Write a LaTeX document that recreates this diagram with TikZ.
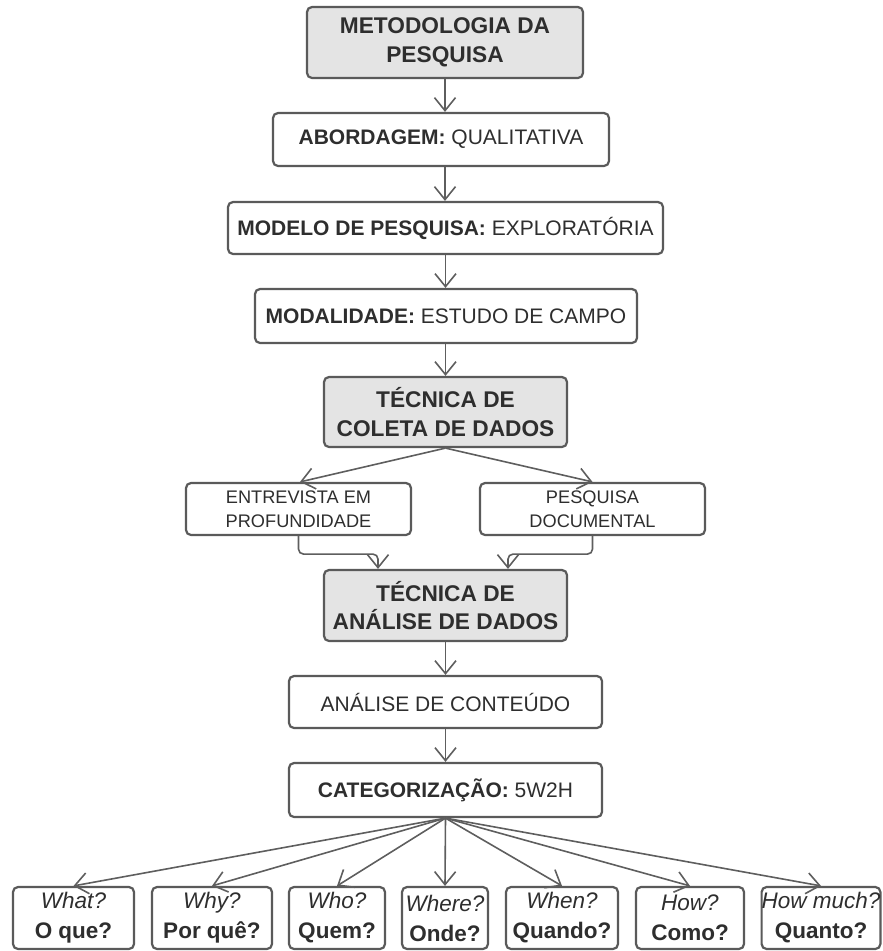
\documentclass[tikz,border=0pt]{standalone}
\usepackage{fontspec}
\setmainfont{Liberation Sans}
\usetikzlibrary{arrows.meta}
\definecolor{boxline}{HTML}{5A5A5A}
\definecolor{boxfill}{HTML}{E4E4E4}
\definecolor{txt}{HTML}{2E2E2E}
\definecolor{arrline}{HTML}{5E5E5E}
\tikzset{
  basebox/.style={draw=boxline, line width=2.2pt, rounded corners=5pt, inner sep=0pt,
    align=center, text=txt},
  graybox/.style={basebox, fill=boxfill, font=\fontsize{22.7}{28.5}\selectfont},
  whitebox/.style={basebox, fill=white, font=\fontsize{21}{25}\selectfont},
  smallbox/.style={basebox, fill=white, font=\fontsize{18.2}{24}\selectfont},
  qbox/.style={basebox, fill=white, font=\fontsize{22.5}{30}\selectfont,
    minimum height=62pt},
  arr/.style={draw=arrline, line width=1.6pt,
    -{Straight Barb[length=13pt,width=21pt,line width=1.6pt]}},
}
\begin{document}
\begin{tikzpicture}[x=1pt,y=-1pt]
\useasboundingbox (0,0) rectangle (883,951);

\node[graybox, minimum width=276pt, minimum height=71pt] (title) at (445,42.5)
  {\textbf{METODOLOGIA DA}\\\textbf{PESQUISA}};
\node[whitebox, minimum width=336pt, minimum height=53pt] (abord) at (441,139.5)
  {\textbf{ABORDAGEM:} QUALITATIVA};
\node[whitebox, minimum width=435pt, minimum height=52pt] (modelo) at (445.5,228)
  {\textbf{MODELO DE PESQUISA:} EXPLORATÓRIA};
\node[whitebox, minimum width=382pt, minimum height=54pt] (modal) at (446,316)
  {\textbf{MODALIDADE:} ESTUDO DE CAMPO};
\node[graybox, minimum width=243pt, minimum height=70pt] (coleta) at (445.5,412)
  {\textbf{TÉCNICA DE}\\\textbf{COLETA DE DADOS}};
\node[smallbox, minimum width=225pt, minimum height=52pt] (entrev) at (298.5,509)
  {ENTREVISTA EM\\PROFUNDIDADE};
\node[smallbox, minimum width=225pt, minimum height=52pt] (pesq) at (592.5,509)
  {PESQUISA\\DOCUMENTAL};
\node[graybox, minimum width=243pt, minimum height=71pt] (analise) at (445.5,605.5)
  {\textbf{TÉCNICA DE}\\\textbf{ANÁLISE DE DADOS}};
\node[whitebox, minimum width=313pt, minimum height=52pt] (conteudo) at (445.5,702)
  {ANÁLISE DE CONTEÚDO};
\node[whitebox, minimum width=313pt, minimum height=54pt] (categ) at (445.5,790)
  {\textbf{CATEGORIZAÇÃO:} 5W2H};

\node[qbox, minimum width=121pt] (what) at (73.5,918) {\textit{What?}\\\textbf{O que?}};
\node[qbox, minimum width=120pt] (why) at (212,918) {\textit{Why?}\\\textbf{Por quê?}};
\node[qbox, minimum width=96pt] (who) at (337,918) {\textit{Who?}\\\textbf{Quem?}};
\node[qbox, minimum width=86pt] (where) at (445,918) {\textit{Where?}\\\textbf{Onde?}};
\node[qbox, minimum width=112pt] (when) at (562,918) {\textit{When?}\\\textbf{Quando?}};
\node[qbox, minimum width=108pt] (how) at (690,918) {\textit{How?}\\\textbf{Como?}};
\node[qbox, minimum width=118pt] (howmuch) at (821,918) {\textit{How much?}\\\textbf{Quanto?}};

\draw[arr] (title.south) -- (title.south |- abord.north);
\draw[arr] (abord.south -| title.south) -- (title.south |- modelo.north);
\draw[arr] (modelo.south) -- (modelo.south |- modal.north);
\draw[arr] (modal.south -| coleta.south) -- (coleta.north);
\draw[arr] (coleta.south) -- ([xshift=1.5pt]entrev.north);
\draw[arr] (coleta.south) -- (pesq.north);
\draw[arr, rounded corners=5pt] (entrev.south) -- ++(0,18) -| ([xshift=-67.5pt]analise.north);
\draw[arr, rounded corners=5pt] (pesq.south) -- ++(0,18) -| ([xshift=62.5pt]analise.north);
\draw[arr] (analise.south) -- (conteudo.north);
\draw[arr] (conteudo.south) -- (categ.north);
\foreach \n in {what,why,who,where,when,how,howmuch}
  \draw[arr] (categ.south) -- (\n.north);
\end{tikzpicture}
\end{document}
